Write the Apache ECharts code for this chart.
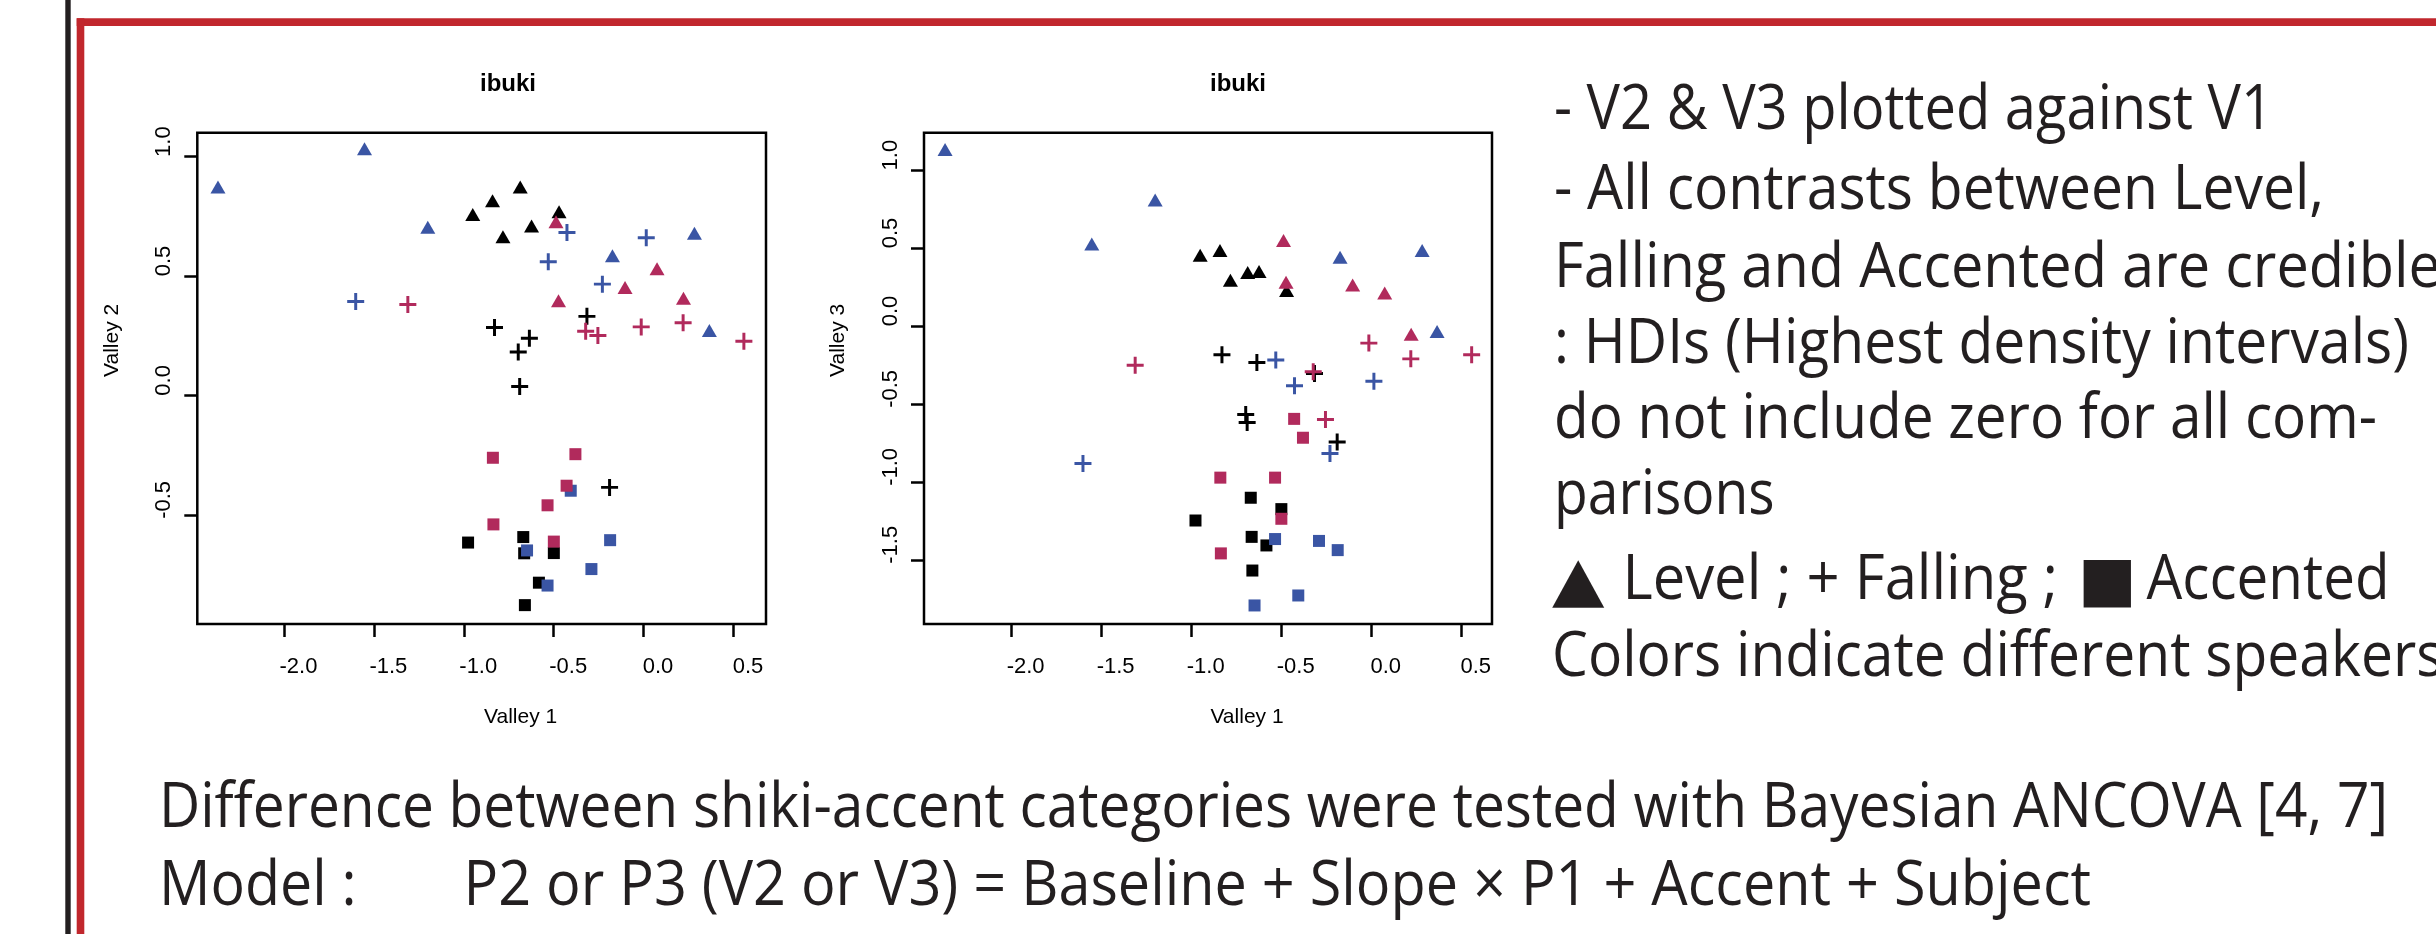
<!DOCTYPE html>
<html>
<head>
<meta charset="utf-8">
<script src="https://cdn.jsdelivr.net/npm/echarts@6/dist/echarts.min.js"></script>
<style>
html,body{margin:0;padding:0;background:#ffffff;}
#c{width:2436px;height:934px;}
</style>
</head>
<body>
<div id="c"></div>
<script>
// ---------------- DATA ----------------
// Valley 1 is shared by both panels; Valley 2 = left panel, Valley 3 = right panel
const levelBlackV1 = [-0.950, -0.840, -0.782, -0.686, -0.623, -0.470];
const levelBlackV2 = [0.758, 0.815, 0.664, 0.873, 0.709, 0.769];
const levelBlackV3 = [0.453, 0.485, 0.293, 0.343, 0.350, 0.228];

const levelBlueV1 = [-2.367, -1.552, -1.200, -0.173, 0.283, 0.366];
const levelBlueV2 = [0.873, 1.033, 0.704, 0.585, 0.679, 0.272];
const levelBlueV3 = [1.133, 0.526, 0.808, 0.441, 0.485, -0.035];

const levelMagentaV1 = [-0.487, -0.473, -0.103, 0.075, 0.222];
const levelMagentaV2 = [0.727, 0.396, 0.452, 0.530, 0.407];
const levelMagentaV3 = [0.549, 0.281, 0.263, 0.212, -0.053];

const fallingBlackV1 = [-0.829, -0.635, -0.315, -0.189, -0.697, -0.689];
const fallingBlackV2 = [0.284, 0.239, 0.331, -0.385, 0.182, 0.037];
const fallingBlackV3 = [-0.184, -0.234, -0.305, -0.745, -0.568, -0.619];

const fallingBlueV1 = [-1.601, -0.530, -0.426, -0.229, 0.015];
const fallingBlueV2 = [0.393, 0.560, 0.682, 0.466, 0.660];
const fallingBlueV3 = [-0.882, -0.218, -0.383, -0.818, -0.355];

const fallingMagentaV1 = [-1.311, -0.322, -0.254, -0.013, 0.220, 0.558];
const fallingMagentaV2 = [0.381, 0.269, 0.251, 0.287, 0.304, 0.227];
const fallingMagentaV3 = [-0.252, -0.293, -0.600, -0.110, -0.211, -0.184];

const accentedBlackV1 = [-0.976, -0.499, -0.582, -0.669, -0.664, -0.660];
const accentedBlackV2 = [-0.616, -0.660, -0.784, -0.593, -0.661, -0.878];
const accentedBlackV3 = [-1.248, -1.175, -1.408, -1.102, -1.353, -1.569];

const accentedBlueV1 = [-0.405, -0.186, -0.648, -0.290, -0.534];
const accentedBlueV2 = [-0.399, -0.606, -0.649, -0.727, -0.796];
const accentedBlueV3 = [-1.729, -1.438, -1.793, -1.379, -1.367];

const accentedMagentaV1 = [-0.379, -0.428, -0.534, -0.499, -0.838, -0.835];
const accentedMagentaV2 = [-0.246, -0.378, -0.460, -0.612, -0.261, -0.540];
const accentedMagentaV3 = [-0.717, -0.596, -0.973, -1.237, -0.973, -1.459];

const xTicks = [-2.0, -1.5, -1.0, -0.5, 0.0, 0.5];
const yTicksV2 = [-0.5, 0.0, 0.5, 1.0];
const yTicksV3 = [-1.5, -1.0, -0.5, 0.0, 0.5, 1.0];

const panelTitles = ['ibuki', 'ibuki'];
const xName = 'Valley 1';
const yNames = ['Valley 2', 'Valley 3'];

const rightTexts = [
  '- V2 & V3 plotted against V1',
  '- All contrasts between Level,',
  'Falling and Accented are credible',
  ': HDIs (Highest density intervals)',
  'do not include zero for all com-',
  'parisons'
];
const legendTexts = ['\u25B2', 'Level ; + Falling ;', '\u25A0', 'Accented'];
const colorNote = 'Colors indicate different speakers';
const bottomLine1 = 'Difference between shiki-accent categories were tested with Bayesian ANCOVA [4, 7]';
const bottomLabel2 = 'Model :';
const bottomLine2 = 'P2 or P3 (V2 or V3) = Baseline + Slope \u00D7 P1 + Accent + Subject';

// ---------------- STYLE / LAYOUT ----------------
const INK = '#231f20';
const SPK_COLOR = { black: '#000000', blue: '#3a55a4', magenta: '#b12a5c' };
const PLUS = 'path://M6.6,0H9.4V6.6H16V9.4H9.4V16H6.6V9.4H0V6.6H6.6Z';
const SYM = { level: 'triangle', falling: PLUS, accented: 'rect' };
const SYM_SIZE = { level: [15, 13], falling: [17, 17], accented: [12, 12] };

const groups = [
  { cat: 'level', spk: 'black', v1: levelBlackV1, v2: levelBlackV2, v3: levelBlackV3 },
  { cat: 'falling', spk: 'black', v1: fallingBlackV1, v2: fallingBlackV2, v3: fallingBlackV3 },
  { cat: 'accented', spk: 'black', v1: accentedBlackV1, v2: accentedBlackV2, v3: accentedBlackV3 },
  { cat: 'level', spk: 'blue', v1: levelBlueV1, v2: levelBlueV2, v3: levelBlueV3 },
  { cat: 'falling', spk: 'blue', v1: fallingBlueV1, v2: fallingBlueV2, v3: fallingBlueV3 },
  { cat: 'accented', spk: 'blue', v1: accentedBlueV1, v2: accentedBlueV2, v3: accentedBlueV3 },
  { cat: 'level', spk: 'magenta', v1: levelMagentaV1, v2: levelMagentaV2, v3: levelMagentaV3 },
  { cat: 'falling', spk: 'magenta', v1: fallingMagentaV1, v2: fallingMagentaV2, v3: fallingMagentaV3 },
  { cat: 'accented', spk: 'magenta', v1: accentedMagentaV1, v2: accentedMagentaV2, v3: accentedMagentaV3 }
];

const PLOT_FONT = '"Liberation Sans", Arial, sans-serif';
const grids = [
  { left: 197.3, top: 132.7, width: 568.7, height: 491.3 },
  { left: 924, top: 132.7, width: 568, height: 491.3 }
];
const xRanges = [[-2.482, 0.681], [-2.484, 0.671]];
const yRanges = [[-0.957, 1.10], [-1.912, 1.24]];
const yTickSets = [yTicksV2, yTicksV3];
const fmt = v => Number(v).toFixed(1);

const series = [];
[0, 1].forEach(p => {
  groups.forEach(g => {
    const ys = p === 0 ? g.v2 : g.v3;
    series.push({
      type: 'scatter',
      xAxisIndex: p, yAxisIndex: p,
      symbol: SYM[g.cat],
      symbolSize: SYM_SIZE[g.cat],
      itemStyle: { color: SPK_COLOR[g.spk], opacity: 1 },
      data: g.v1.map((x, i) => [x, ys[i]]),
      silent: true,
      emphasis: { disabled: true },
      animation: false
    });
  });
});

const xAxes = [0, 1].map(p => ({
  type: 'value', gridIndex: p,
  min: xRanges[p][0], max: xRanges[p][1],
  axisLine: { show: false, onZero: false },
  axisTick: { show: true, inside: false, length: 13, customValues: xTicks,
              lineStyle: { color: '#000', width: 2.5 } },
  axisLabel: { show: true, customValues: xTicks, formatter: fmt, margin: 32,
               color: '#000', fontSize: 22, fontFamily: PLOT_FONT, padding: [0, 0, 0, 29] },
  splitLine: { show: false },
  name: xName, nameLocation: 'middle', nameGap: 83,
  nameTextStyle: { color: '#000', fontSize: 21, fontFamily: PLOT_FONT, padding: [0, 0, 0, 78] }
}));

const yAxes = [0, 1].map(p => ({
  type: 'value', gridIndex: p,
  min: yRanges[p][0], max: yRanges[p][1],
  axisLine: { show: false, onZero: false },
  axisTick: { show: true, inside: false, length: 13, customValues: yTickSets[p],
              lineStyle: { color: '#000', width: 2.5 } },
  axisLabel: { show: true, customValues: yTickSets[p], formatter: fmt, margin: 22, rotate: 90,
               color: '#000', fontSize: 22, fontFamily: PLOT_FONT, padding: [0, 0, 0, 30] },
  splitLine: { show: false },
  name: yNames[p], nameLocation: 'middle', nameGap: 75,
  nameTextStyle: { color: '#000', fontSize: 21, fontFamily: PLOT_FONT, padding: [0, 0, 0, 76] }
}));

// ---------------- TEXT BLOCKS (graphic) ----------------
const BIG_FAM = '"Open Sans"';
const BIG_SIZE = 62;
const MID_OFF = 0.388 * BIG_SIZE;   // canvas 'middle' above baseline
const meas = document.createElement('canvas').getContext('2d');
function tw(text, size, fam) { meas.font = size + 'px ' + fam; return meas.measureText(text).width; }

const lines = [
  { t: rightTexts[0], x0: 1557, x1: 2276, base: 135 },
  { t: rightTexts[1], x0: 1557, x1: 2327, base: 215.5 },
  { t: rightTexts[2], x0: 1557, x1: 2444, base: 293 },
  { t: rightTexts[3], x0: 1557, x1: 2412, base: 369 },
  { t: rightTexts[4], x0: 1557, x1: 2380, base: 444.5 },
  { t: rightTexts[5], x0: 1557, x1: 1777.6, base: 520 },
  { t: legendTexts[1], x0: 1625.4, x1: 2061, base: 605.5 },
  { t: legendTexts[3], x0: 2149.6, x1: 2392.5, base: 605.5 },
  { t: colorNote, x0: 1555, x1: null, base: 682 },
  { t: bottomLine1, x0: 162, x1: 2391, base: 833 },
  { t: bottomLabel2, x0: 162, x1: 359.5, base: 911 },
  { t: bottomLine2, x0: 466.6, x1: 2094, base: 911 }
];
const known = lines.filter(l => l.x1 !== null).map(l => (l.x1 - l.x0) / tw(l.t, BIG_SIZE, BIG_FAM)).sort((a, b) => a - b);
const medScale = known[Math.floor(known.length / 2)];

const graphics = [];
// frame
graphics.push({ type: 'rect', shape: { x: 65.3, y: 0, width: 5.4, height: 934 }, style: { fill: INK }, silent: true });
graphics.push({ type: 'rect', shape: { x: 76.7, y: 18.3, width: 2436 - 76.7, height: 7.7 }, style: { fill: '#c1272d' }, silent: true });
graphics.push({ type: 'rect', shape: { x: 76.7, y: 18.3, width: 7.6, height: 934 - 18.3 }, style: { fill: '#c1272d' }, silent: true });

function txt(text, x, y, font, fill, sx, align) {
  return {
    type: 'text', x: x, y: y, scaleX: sx || 1, silent: true,
    style: { text: text, font: font, fill: fill, textFill: fill,
             textAlign: align || 'left', align: align || 'left',
             textVerticalAlign: 'middle', verticalAlign: 'middle' }
  };
}

lines.forEach(l => {
  const w = tw(l.t, BIG_SIZE, BIG_FAM);
  const s = l.x1 !== null ? (l.x1 - l.x0) / w : medScale;
  graphics.push(txt(l.t, l.x0 - 3, l.base - MID_OFF, BIG_SIZE + 'px ' + BIG_FAM, INK, s));
});
// legend glyphs
const GLY = 62;
graphics.push(txt(legendTexts[0], 1552, 605.5 - 0.346 * GLY, GLY + 'px "DejaVu Sans"', INK, 1.1));
graphics.push(txt(legendTexts[2], 2078, 605.5 - 0.346 * GLY, GLY + 'px "DejaVu Sans"', INK, 1.0));

// panel titles
graphics.push(txt(panelTitles[0], 508, 84.4, 'bold 24px ' + PLOT_FONT, '#000', 1, 'center'));
graphics.push(txt(panelTitles[1], 1238, 84.4, 'bold 24px ' + PLOT_FONT, '#000', 1, 'center'));

const chart = echarts.init(document.getElementById('c'), null, { renderer: 'canvas', width: 2436, height: 934 });
chart.setOption({
  backgroundColor: '#ffffff',
  animation: false,
  grid: grids.map(g => Object.assign({ show: true, borderColor: '#000', borderWidth: 2.5,
                                       backgroundColor: 'transparent', containLabel: false }, g)),
  xAxis: xAxes,
  yAxis: yAxes,
  series: series,
  graphic: { elements: graphics }
});
</script>
</body>
</html>
